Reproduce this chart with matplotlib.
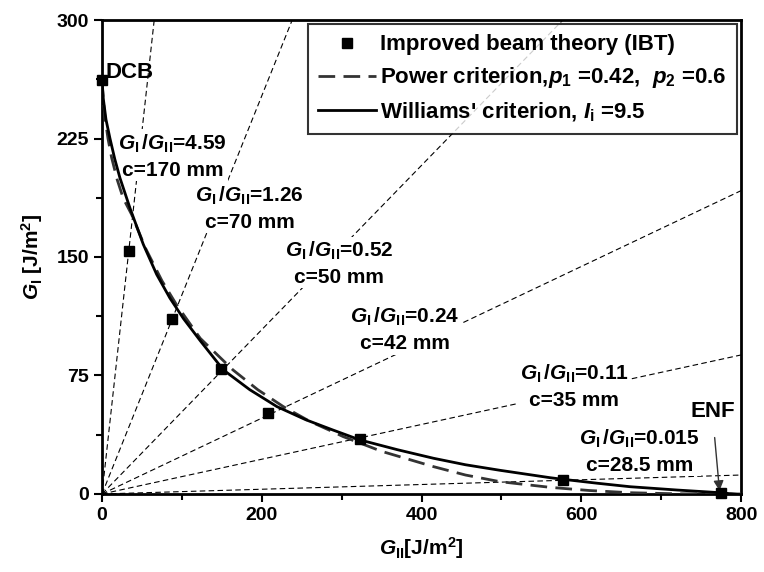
import numpy as np
import matplotlib.pyplot as plt
from matplotlib import rcParams

rcParams.update({'font.family': 'Liberation Sans', 'font.weight': 'bold', 'font.size': 14,
                 'axes.labelweight': 'bold',
                 'mathtext.fontset': 'custom', 'mathtext.rm': 'Liberation Sans:bold',
                 'mathtext.it': 'Liberation Sans:italic:bold', 'mathtext.bf': 'Liberation Sans:bold'})

# IBT data points (GII, GI)
ibt_gii = [0, 34, 88, 149, 208, 323, 577, 775]
ibt_gi = [262, 154, 111, 79, 51, 35, 8.8, 0.5]

# Power criterion curve
pow_gii = [0, 1.5, 3.8, 7.5, 12, 19, 26.7, 37, 55, 75, 93, 123, 164, 195, 227, 260, 289, 302,
           350, 415, 455, 498, 561, 610, 661, 720, 775, 800]
pow_gi = [262, 250, 238, 225, 213, 199, 187, 177, 155, 135, 120, 98.5, 78.5, 66, 55.3, 46, 39.4, 36.3,
          27, 17.3, 12, 7.8, 4.2, 2.2, 0.8, 0.1, 0, 0]

# Williams' criterion curve
wil_gii = [0, 1.7, 5, 10, 16, 22.5, 35, 51.7, 68.4, 85, 102, 123, 152, 185, 219, 255, 289, 323,
           370, 415, 455, 498, 561, 577, 620, 661, 720, 774, 800]
wil_gi = [262, 250, 237, 225, 212, 200, 181, 158, 139, 124, 111, 97, 78.5, 66, 55.3, 47, 40.5, 34.2,
          28, 22.6, 18.5, 15, 10.3, 9.3, 6.8, 4.6, 2.5, 0.8, -0.5]

# mode-mixity lines and labels
ratios = [4.59, 1.26, 0.52, 0.24, 0.11, 0.015]
ratio_txt = ['4.59', '1.26', '0.52', '0.24', '0.11', '0.015']
c_txt = ['170', '70', '50', '42', '35', '28.5']
lab_xy = [(88, 214), (185, 181), (297, 146), (379, 104), (591, 68), (673, 27)]

fig = plt.figure(figsize=(7.64, 5.72), dpi=100)
ax = fig.add_axes([0.1335, 0.1364, 0.8365, 0.8286])

for r in ratios:
    ax.axline((0, 0), slope=r, color='black', lw=0.8, ls=(0, (5, 3)), zorder=1)

# white patches behind labels first, then the labels themselves on top
for r, c, (x, y) in zip(ratio_txt, c_txt, lab_xy):
    s = r'$G_\mathrm{I}\,/G_\mathrm{II}$=' + r + '\nc=' + c + ' mm'
    ax.text(x, y, s, ha='center', va='center', linespacing=1.4, zorder=2, fontsize=15,
            color='none', bbox=dict(facecolor='white', edgecolor='none', pad=1))
    ax.text(x, y, s, ha='center', va='center', linespacing=1.4, zorder=2.5, fontsize=15)

ax.plot(ibt_gii, ibt_gi, 's', color='black', ms=7, clip_on=False, zorder=5,
        label='Improved beam theory (IBT)')
ax.plot(pow_gii, pow_gi, '--', color='#333333', lw=2, dashes=(6, 3), zorder=3,
        label=r'Power criterion,$p_1$ =0.42,  $p_2$ =0.6')
ax.plot(wil_gii, wil_gi, '-', color='black', lw=2, zorder=4,
        label=r"Williams' criterion, $I_\mathrm{i}$ =9.5")

ax.text(5, 267, 'DCB', ha='left', va='center', fontsize=16)
ax.annotate('ENF', xy=(773, 2), xytext=(764, 52), ha='center', va='center', fontsize=16,
            arrowprops=dict(arrowstyle='-|>', color='#333333', lw=1, mutation_scale=15,
                            shrinkA=9, shrinkB=0))

ax.set_xlim(0, 800)
ax.set_ylim(0, 300)
ax.set_xticks([0, 200, 400, 600, 800])
ax.set_xticks([100, 300, 500, 700], minor=True)
ax.set_yticks([0, 75, 150, 225, 300])
ax.set_yticks([37.5, 112.5, 187.5, 262.5], minor=True)
ax.tick_params(which='both', direction='out', width=1.5, top=False, right=False, labelsize=14)
ax.tick_params(which='major', length=6)
ax.tick_params(which='minor', length=4)
for lab in ax.get_xticklabels() + ax.get_yticklabels():
    lab.set_fontweight('bold')
for s in ax.spines.values():
    s.set_linewidth(2)

ax.set_xlabel(r'$G_\mathrm{II}$[J/m$^2$]', labelpad=8, fontsize=15)
ax.set_ylabel(r'$G_\mathrm{I}$ [J/m$^2$]', labelpad=8, fontsize=15)

leg = ax.legend(loc='upper right', prop={'size': 16, 'weight': 'bold'}, frameon=True, fancybox=False,
                borderpad=0.45, handlelength=2.6, handletextpad=0.2, labelspacing=0.45,
                borderaxespad=0.2)
leg.get_frame().set_edgecolor('black')
leg.get_frame().set_linewidth(1.5)
leg.set_zorder(6)

fig.savefig('out.png', dpi=100)
